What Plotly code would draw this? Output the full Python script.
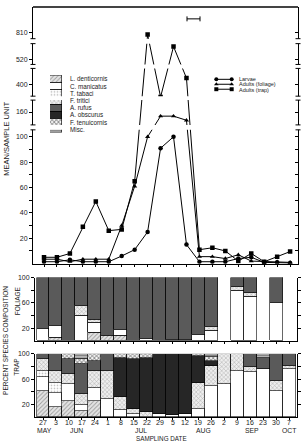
import numpy as np
import plotly.graph_objects as go

W, H = 305, 442

# ---------------- data ----------------
date_labels = ["27", "3", "10", "17", "24", "1", "8", "15", "22", "29",
               "5", "12", "19", "26", "2", "9", "16", "23", "30", "7"]
month_labels = ["MAY", "JUN", "JUL", "AUG", "SEP", "OCT"]
month_at = [0.1, 2.6, 7.6, 12.4, 16.1, 19.0]

larvae = [1.5, 1.5, 3, 1.5, 1.5, 1.5, 6, 11, 25, 91, 100, 15, 1.5, 1.5, 1.5, 4, 5, 1, 1, 0.5]
adults_foliage = [3.5, 3.5, 1.5, 3.5, 3.5, 3.5, 30, 61, 100, 150, 150, 140, 5.5, 5.5, 4, 7, 2, 1.5, 1.5, 1]
adults_trap = [5, 5, 8, 29, 49, 26, 27, 65, 790, 290, 660, 430, 11, 12.5, 10, 2, 8, 1.5, 5.5, 9.5]

mean_ticks = [20, 40, 60, 80, 100, 160, 400, 520, 810]
mean_minor = [10, 30, 50, 70, 90]
pct_ticks = [20, 40, 60, 80, 100]
pct_labels = ["20", "", "60", "", "100"]

species = ["L. denticornis", "C. manicatus", "T. tabaci", "F. tritici",
           "A. rufus", "A. obscurus", "F. tenuicornis", "Misc."]

# foliage composition (%)
fol_lden = [0, 6, 0, 0, 13, 8, 8, 0, 0, 0, 0, 0, 0, 0, 0, 0, 0, 0, 0, 0]
fol_cman = [19, 19, 0, 40, 16, 0, 10, 0, 4, 0, 3, 2, 10, 16, 0, 79, 70, 0, 60, 0]
fol_ttab = [0] * 20
fol_ftri = [0, 0, 0, 16, 5, 0, 0, 0, 0, 0, 0, 0, 0, 7, 0, 7, 6.5, 0, 0, 0]
fol_aruf = [81, 75, 100, 44, 66, 92, 82, 100, 96, 100, 97, 98, 90, 77, 0, 14, 23.5, 0, 40, 0]
fol_aobs = [0] * 20
fol_ften = [0] * 20
fol_misc = [0] * 20

# trap composition (%)
trp_lden = [42, 17, 26, 10, 26, 0, 0, 0, 0, 0, 0, 0, 0, 0, 0, 0, 0, 0, 0, 0]
trp_cman = [22, 21, 26, 9, 21, 29, 11, 6, 0, 5, 4, 6, 13, 50, 53, 73, 71, 76, 42, 76]
trp_ttab = [9, 17, 0, 0, 0, 0, 0, 0, 0, 0, 0, 0, 0, 0, 0, 0, 0, 0, 0, 0]
trp_ftri = [19, 18, 16, 18, 26, 44, 21, 7, 8, 0, 0, 0, 42, 31, 47, 27, 8, 0, 16, 5]
trp_aruf = [8, 27, 24, 47, 16, 27, 0, 0, 0, 0, 0, 0, 0, 0, 0, 0, 21, 18, 42, 19]
trp_aobs = [0, 0, 0, 0, 0, 0, 62, 79, 86, 95, 96, 94, 42, 8, 0, 0, 0, 0, 0, 0]
trp_ften = [0, 0, 8, 8, 11, 0, 6, 8, 6, 0, 0, 0, 3, 6, 0, 0, 0, 0, 0, 0]
trp_misc = [0, 0, 0, 8, 0, 0, 0, 0, 0, 0, 0, 0, 0, 5, 0, 0, 0, 6, 0, 0]

foliage_sets = [fol_lden, fol_cman, fol_ttab, fol_ftri, fol_aruf, fol_aobs, fol_ften, fol_misc]
trap_sets = [trp_lden, trp_cman, trp_ttab, trp_ftri, trp_aruf, trp_aobs, trp_ften, trp_misc]

# broken-scale of the upper chart (value -> drawing units)
scale_vals = [0, 100, 160, 400, 520, 810, 1000]
scale_pos = [0, 128, 153, 181, 206, 233, 259]


def ty(v):
    return np.interp(np.asarray(v, dtype=float), scale_vals, scale_pos)


# ---------------- styles ----------------
styles = [
    dict(color="#e4e4e4", pattern=dict(shape="/", fgcolor="#555", bgcolor="#e4e4e4", size=3, solidity=0.3)),
    dict(color="white", pattern=dict(shape="")),
    dict(color="white", pattern=dict(shape=".", fgcolor="#777", bgcolor="white", size=3, solidity=0.25)),
    dict(color="#eeeeee", pattern=dict(shape="x", fgcolor="#666", bgcolor="#eeeeee", size=3, solidity=0.3)),
    dict(color="#5a5a5a", pattern=dict(shape="")),
    dict(color="#262626", pattern=dict(shape="")),
    dict(color="white", pattern=dict(shape="x", fgcolor="#111", bgcolor="white", size=3, solidity=0.5)),
    dict(color="#bbbbbb", pattern=dict(shape="-", fgcolor="#333", bgcolor="#bbbbbb", size=3, solidity=0.4)),
]

FONT = "Liberation Sans"
TXT = "#222"


def px(x):
    return x / W


def py(y):
    return 1 - y / H


fig = go.Figure()
xi = list(range(len(date_labels)))

# ---------------- top line chart ----------------
for vals, sym in [(larvae, "circle"), (adults_foliage, "triangle-up"), (adults_trap, "square")]:
    fig.add_trace(go.Scatter(
        x=xi, y=ty(vals), mode="lines+markers",
        line=dict(color="black", width=1),
        marker=dict(symbol=sym, size=4.5, color="black"),
        xaxis="x", yaxis="y", showlegend=False, hoverinfo="skip"))
# invisible trace to realise the right axis
fig.add_trace(go.Scatter(x=[0], y=[0], mode="markers", marker=dict(opacity=0),
                         xaxis="x", yaxis="y6", showlegend=False, hoverinfo="skip"))

# ---------------- composition bars ----------------
for k, (fvals, tvals) in enumerate(zip(foliage_sets, trap_sets)):
    st = styles[k]
    for vals, xa, ya in [(fvals, "x2", "y2"), (tvals, "x3", "y3")]:
        yv = [v if v > 0 else None for v in vals]
        fig.add_trace(go.Bar(
            x=xi, y=yv, width=1, xaxis=xa, yaxis=ya, name=species[k],
            marker=dict(color=st["color"], pattern=st["pattern"],
                        line=dict(color="black", width=0.6)),
            showlegend=False, hoverinfo="skip"))

# pattern legend swatches (L. denticornis on top)
for k in reversed(range(len(species))):
    st = styles[k]
    fig.add_trace(go.Bar(
        x=[0], y=[1], width=1, xaxis="x4", yaxis="y4",
        marker=dict(color=st["color"], pattern=st["pattern"],
                    line=dict(color="black", width=0.6)),
        showlegend=False, hoverinfo="skip"))

# line legend keys
for row, sym in [(2, "circle"), (1, "triangle-up"), (0, "square")]:
    fig.add_trace(go.Scatter(
        x=[0, 1], y=[row, row], mode="lines+markers",
        line=dict(color="black", width=1),
        marker=dict(symbol=sym, size=4, color="black"),
        xaxis="x5", yaxis="y5", showlegend=False, hoverinfo="skip"))

# ---------------- axes ----------------
top_ticks = ty(mean_ticks + mean_minor)
top_text = [str(t) for t in mean_ticks] + [""] * len(mean_minor)
axis_common = dict(showgrid=False, zeroline=False, linecolor="black", linewidth=1,
                   tickcolor="black", tickwidth=1)

layout_axes = dict(
    xaxis=dict(domain=[px(33), px(298)], range=[-0.849, 19.61], anchor="y",
               showline=True, ticks="outside", ticklen=2, tickvals=xi,
               showticklabels=False, **axis_common),
    yaxis=dict(domain=[py(262), py(3)], range=[0, 259], anchor="x",
               showline=True, ticks="outside", ticklen=3,
               tickvals=list(top_ticks), ticktext=top_text,
               tickfont=dict(size=7, family=FONT, color=TXT), **axis_common),
    yaxis6=dict(overlaying="y", side="right", anchor="x", range=[0, 259],
                showline=True, ticks="inside", ticklen=3,
                tickvals=list(top_ticks), showticklabels=False, **axis_common),
    xaxis2=dict(domain=[px(35), px(297)], range=[-0.618, 19.61], anchor="y2",
                showline=True, ticks="outside", ticklen=2, tickvals=xi,
                showticklabels=False, **axis_common),
    yaxis2=dict(domain=[py(340), py(276)], range=[0, 100], anchor="x2",
                showline=True, mirror="ticks", ticks="outside", ticklen=3,
                tickvals=pct_ticks, ticktext=pct_labels,
                tickfont=dict(size=7, family=FONT, color=TXT), **axis_common),
    xaxis3=dict(domain=[px(35), px(297)], range=[-0.618, 19.61], anchor="y3",
                showline=True, ticks="outside", ticklen=2, tickvals=xi,
                showticklabels=False, **axis_common),
    yaxis3=dict(domain=[py(417), py(353)], range=[0, 100], anchor="x3",
                showline=True, mirror="ticks", ticks="outside", ticklen=3,
                tickvals=pct_ticks, ticktext=pct_labels,
                tickfont=dict(size=7, family=FONT, color=TXT), **axis_common),
    xaxis4=dict(domain=[px(50), px(62)], range=[-0.5, 0.5], anchor="y4", visible=False),
    yaxis4=dict(domain=[py(130), py(72)], range=[0, 8], anchor="x4", visible=False),
    xaxis5=dict(domain=[px(214), px(234)], range=[-0.15, 1.15], anchor="y5", visible=False),
    yaxis5=dict(domain=[py(88.5), py(73.5)], range=[-0.5, 2.5], anchor="x5", visible=False),
)

# ---------------- shapes ----------------
shapes = []
gaps = [(35, 40), (61, 65), (93, 97), (122, 127)]
for g0, g1 in gaps:
    shapes.append(dict(type="rect", xref="paper", yref="paper", layer="above",
                       x0=px(29.5), x1=px(301.5), y0=py(g1), y1=py(g0),
                       fillcolor="white", line=dict(width=0)))
    for gy in (g0, g1):
        for cx in (33, 298):
            shapes.append(dict(type="line", xref="paper", yref="paper", layer="above",
                               x0=px(cx - 2.5), x1=px(cx + 2.5), y0=py(gy), y1=py(gy),
                               line=dict(color="black", width=1)))
# heavy top border
shapes.append(dict(type="line", xref="paper", yref="paper", layer="above",
                   x0=px(33), x1=px(298), y0=py(3), y1=py(3),
                   line=dict(color="#444", width=2)))
# scale bar
shapes.append(dict(type="line", xref="paper", yref="paper", x0=px(187), x1=px(200),
                   y0=py(15), y1=py(15), line=dict(color="black", width=1)))
for cx in (187, 200):
    shapes.append(dict(type="line", xref="paper", yref="paper", x0=px(cx), x1=px(cx),
                       y0=py(12.5), y1=py(17.5), line=dict(color="black", width=1)))

# ---------------- annotations ----------------
ann = []


def text(s, x, y, size=7, angle=0, xanchor="center", xref="paper", yref="paper"):
    ann.append(dict(text=s, x=x, y=y, xref=xref, yref=yref, showarrow=False,
                    textangle=angle, xanchor=xanchor, yanchor="middle",
                    font=dict(size=size, family=FONT, color=TXT)))


text("MEAN/SAMPLE UNIT", px(7), py(136), size=7.5, angle=-90)
text("PERCENT SPECIES COMPOSITION", px(6), py(340), size=6.5, angle=-90)
text("FOLIAGE", px(17), py(300), size=6.5, angle=-90)
text("TRAP", px(17), py(367), size=6.5, angle=-90)
for lab, pos in zip(date_labels, xi):
    text(lab, pos, py(422), size=7, xref="x3")
for m, pos in zip(month_labels, month_at):
    text(m, pos, py(430.5), size=6.8, xref="x3")
text("SAMPLING DATE", px(162), py(438.5), size=6.3)
for k, s in enumerate(species):
    text(s, px(68), py(72 + 7.25 * (k + 0.5)), size=6.3, xanchor="left")
for k, s in enumerate(["Larvae", "Adults (foliage)", "Adults (trap)"]):
    text(s, px(237), py(75.5 + 5.5 * k), size=5.5, xanchor="left")

fig.update_layout(
    width=W, height=H, margin=dict(l=0, r=0, t=0, b=0),
    paper_bgcolor="white", plot_bgcolor="white",
    barmode="stack", bargap=0, showlegend=False,
    shapes=shapes, annotations=ann, **layout_axes)

fig.write_html("out.html")
